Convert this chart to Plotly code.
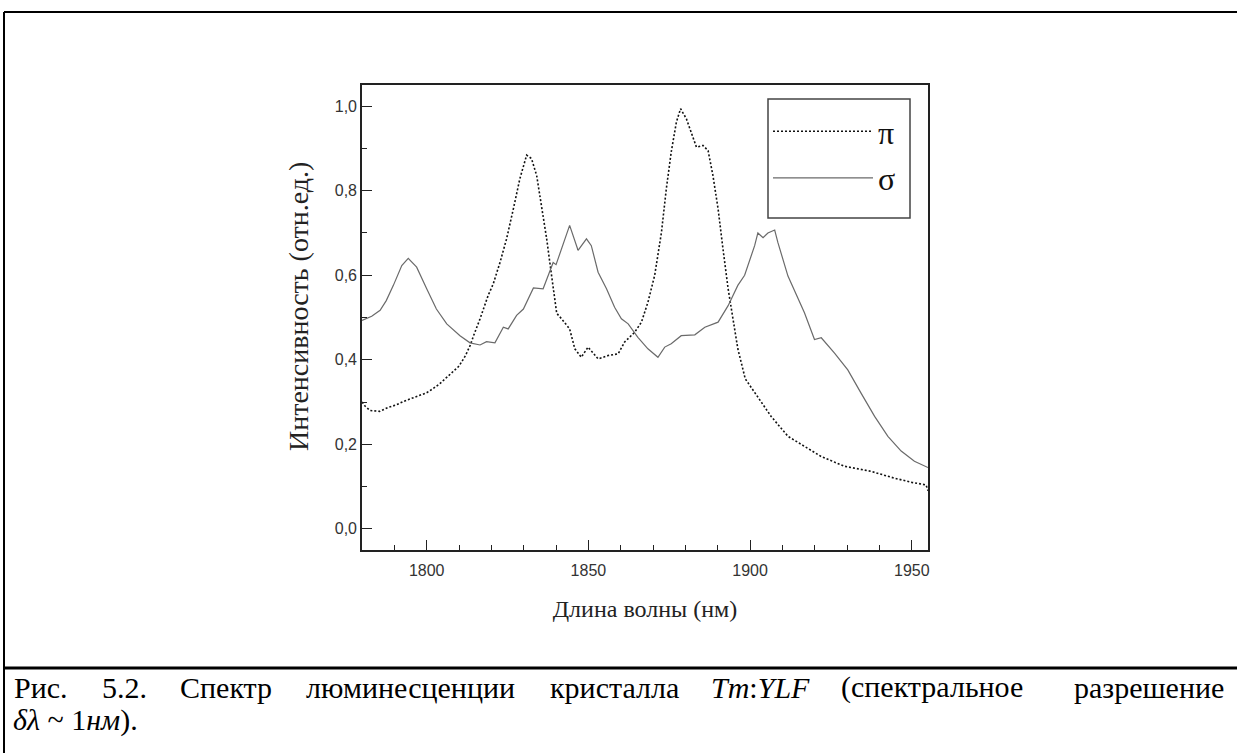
import plotly.graph_objects as go

# ---- data ----
wl_pi = [1780, 1781, 1782.5, 1785.5, 1788, 1790.5, 1793, 1796, 1798, 1800, 1802, 1804, 1806,
         1808, 1810, 1812, 1813.5, 1814.5, 1816.5, 1819, 1820.6, 1822.7, 1824.7, 1826.8,
         1828.8, 1830.9, 1832.4, 1834, 1835.5, 1837.1, 1838.6, 1840.2, 1841.7, 1844.2,
         1845.8, 1847.8, 1849.9, 1851.5, 1853, 1856.1, 1859.2, 1861.2, 1864.3, 1866.4,
         1868.4, 1870.5, 1872.6, 1874.1, 1875.6, 1877.2, 1878.5, 1880.3, 1881.8, 1883.4,
         1885.4, 1887, 1888.5, 1890.1, 1891.6, 1893.2, 1894.7, 1896.2, 1898.5, 1902.4,
         1906.5, 1911.7, 1916.8, 1922, 1929.2, 1937.4, 1944.6, 1950, 1954.4, 1955]
int_pi = [0.30, 0.29, 0.28, 0.278, 0.287, 0.293, 0.302, 0.31, 0.315, 0.322, 0.332, 0.343, 0.357,
          0.37, 0.385, 0.41, 0.435, 0.457, 0.497, 0.552, 0.58, 0.631, 0.686, 0.757,
          0.828, 0.884, 0.876, 0.836, 0.765, 0.686, 0.60, 0.51, 0.497, 0.473,
          0.426, 0.406, 0.43, 0.415, 0.402, 0.41, 0.414, 0.442, 0.465, 0.489,
          0.536, 0.60, 0.702, 0.805, 0.891, 0.962, 0.994, 0.97, 0.939, 0.903,
          0.907, 0.895, 0.836, 0.757, 0.663, 0.568, 0.497, 0.426, 0.355, 0.313,
          0.266, 0.219, 0.195, 0.171, 0.148, 0.136, 0.12, 0.11, 0.104, 0.09]

wl_sigma = [1780, 1783, 1785.6, 1787.5, 1789.7, 1792.3, 1794.3, 1796.9, 1800, 1803, 1806.2,
            1810.3, 1813.4, 1816.5, 1818.5, 1821.1, 1823.7, 1825.2, 1827.8, 1829.9, 1833,
            1836, 1837.6, 1839.1, 1840, 1841.7, 1844.2, 1846.8, 1849.4, 1850.9, 1853,
            1855.6, 1858.1, 1860.2, 1862.3, 1865.3, 1868.4, 1871.5, 1873.6, 1875.6, 1878.7,
            1882.9, 1886, 1890.1, 1893.2, 1896.2, 1898.3, 1901.4, 1902.4, 1904, 1905.5,
            1907.6, 1908.6, 1911.7, 1914.3, 1916.8, 1919.9, 1922, 1926.1, 1930.2, 1934.3,
            1938.5, 1942.6, 1946.7, 1950.8, 1955]
int_sigma = [0.493, 0.503, 0.517, 0.54, 0.576, 0.623, 0.64, 0.619, 0.568, 0.52, 0.485,
             0.457, 0.44, 0.435, 0.443, 0.44, 0.477, 0.473, 0.505, 0.52, 0.57,
             0.568, 0.60, 0.63, 0.625, 0.663, 0.718, 0.659, 0.686, 0.67, 0.607,
             0.568, 0.524, 0.497, 0.485, 0.453, 0.426, 0.406, 0.43, 0.438, 0.457,
             0.459, 0.477, 0.489, 0.528, 0.576, 0.60, 0.67, 0.70, 0.689, 0.70,
             0.707, 0.677, 0.598, 0.555, 0.511, 0.448, 0.452, 0.416, 0.376, 0.321,
             0.266, 0.219, 0.184, 0.16, 0.145]

x_ticks = [1800, 1850, 1900, 1950]
y_ticks = [0.0, 0.2, 0.4, 0.6, 0.8, 1.0]

x_title = "Длина волны (нм)"
y_title = "Интенсивность (отн.ед.)"
caption_line1 = ["Рис.", "5.2.", "Спектр", "люминесценции", "кристалла",
                 "<i>Tm</i>:<i>YLF</i>", "(спектральное", "разрешение"]
caption_line2 = "<i>δλ</i> ~ 1<i>нм</i>)."

SERIF = "Liberation Serif"
SANS = "Liberation Sans"

# ---- layout geometry (pixels) ----
W, H = 1237, 753
L, R, T, B = 362, 928, 85, 550
PW, PH = R - L, B - T


def px(x):
    return (x - L) / PW


def py(y):
    return (B - y) / PH


fig = go.Figure()
fig.add_trace(go.Scatter(x=wl_pi, y=int_pi, mode="lines", name="π", legendgroup="a",
                         line=dict(color="#111111", width=1.6, dash="2px,2px")))
fig.add_trace(go.Scatter(x=wl_sigma, y=int_sigma, mode="lines", name="σ", legendgroup="b",
                         line=dict(color="#6a6a6a", width=1.2)))

axis_common = dict(showgrid=False, zeroline=False, showline=True, linecolor="#222222",
                   linewidth=1.6, mirror=True, ticks="inside", ticklen=10, tickwidth=1.4,
                   tickcolor="#222222",
                   tickfont=dict(family=SANS, size=16, color="#333333"))

fig.update_xaxes(range=[1780, 1955], tickvals=x_ticks, tickformat="d",
                 ticklabelstandoff=5,
                 minor=dict(dtick=10, ticks="inside", ticklen=5, tickwidth=1.2,
                            tickcolor="#222222"),
                 title=dict(text=x_title, standoff=22,
                            font=dict(family=SERIF, size=24, color="#222222")),
                 **axis_common)
fig.update_yaxes(range=[-0.05, 1.05], tickvals=y_ticks, tickformat=".1f",
                 minor=dict(dtick=0.1, ticks="inside", ticklen=5, tickwidth=1.2,
                            tickcolor="#222222"),
                 **axis_common)

shapes = [
    dict(type="line", xref="paper", yref="paper", x0=px(4), x1=px(W + 5), y0=py(12), y1=py(12),
         line=dict(color="black", width=2)),
    dict(type="line", xref="paper", yref="paper", x0=px(4), x1=px(4), y0=py(12), y1=py(H + 5),
         line=dict(color="black", width=2)),
    dict(type="line", xref="paper", yref="paper", x0=px(4), x1=px(W + 5), y0=py(668), y1=py(668),
         line=dict(color="black", width=3)),
    dict(type="rect", xref="paper", yref="paper", x0=px(768), x1=px(910), y0=py(99), y1=py(218),
         line=dict(color="#444444", width=1.5), fillcolor="rgba(0,0,0,0)", layer="above"),
]

annotations = [
    # y-axis title
    dict(text=y_title, x=px(298), y=py(307), xref="paper", yref="paper", textangle=-90,
         xanchor="center", yanchor="middle", showarrow=False,
         font=dict(family=SERIF, size=28, color="#222222")),
]

cap_font = dict(family=SERIF, size=30, color="black")
cap_centers = [41, 124, 226, 410, 614, 760, 932, 1149]
for word, xx in zip(caption_line1, cap_centers):
    annotations.append(dict(text=word, x=px(xx), y=py(687), xref="paper", yref="paper",
                            xanchor="center", yanchor="middle", showarrow=False, font=cap_font))
annotations.append(dict(text=caption_line2, x=px(11), y=py(720), xref="paper", yref="paper",
                        xanchor="left", yanchor="middle", showarrow=False, font=cap_font))

fig.update_layout(
    width=W, height=H,
    margin=dict(l=L, r=W - R, t=T, b=H - B),
    paper_bgcolor="white", plot_bgcolor="white",
    showlegend=True,
    separators=", ",
    legend=dict(x=px(768), y=py(104), xanchor="left", yanchor="top",
                bgcolor="rgba(0,0,0,0)", borderwidth=0,
                font=dict(family=SERIF, size=32, color="#111111"),
                itemwidth=100, traceorder="grouped", tracegroupgap=2),
    shapes=shapes,
    annotations=annotations,
)

fig.write_html("out.html")
